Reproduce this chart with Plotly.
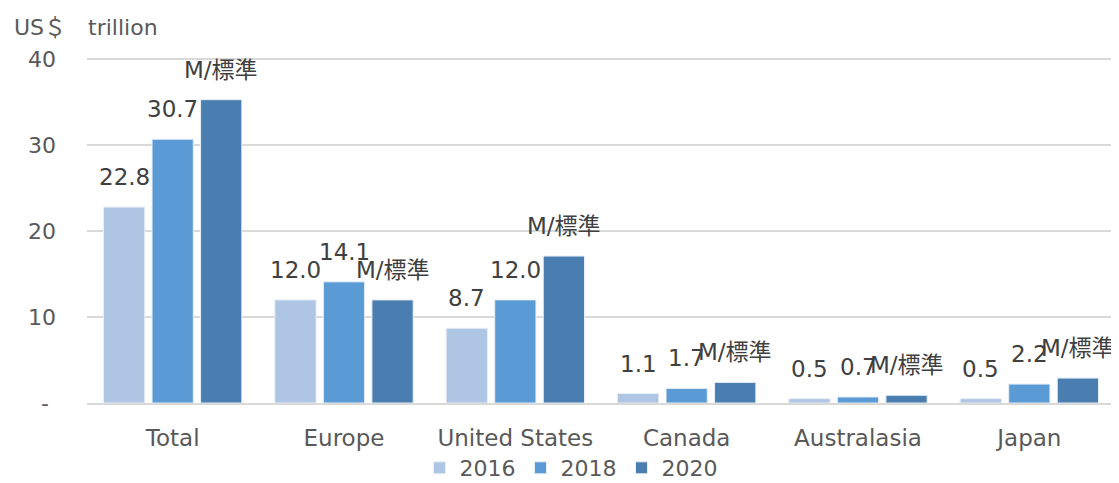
import plotly.graph_objects as go

categories = ["Total", "Europe", "United States", "Canada", "Australasia", "Japan"]
years = ["2016", "2018", "2020"]
v2016 = [22.8, 12.0, 8.7, 1.1, 0.5, 0.5]
v2018 = [30.7, 14.1, 12.0, 1.7, 0.7, 2.2]
v2020 = [35.3, 12.0, 17.1, 2.4, 0.9, 2.9]
labels2016 = ["22.8", "12.0", "8.7", "1.1", "0.5", "0.5"]
labels2018 = ["30.7", "14.1", "12.0", "1.7", "0.7", "2.2"]
labels2020 = ["M/標準"] * 6
colors = ["#aec6e4", "#5b9bd5", "#4a7eb0"]

FONT = "DejaVu Sans, Noto Sans CJK JP, sans-serif"
series = [v2016, v2018, v2020]
labels = [labels2016, labels2018, labels2020]

# page body has an 8px margin, so the figure is drawn 8px smaller
W, H = 1111, 475
ML, MR, MT, MB = 79, 4, 47, 80
PW, PH = W - ML - MR, H - MT - MB
YMAX = 40.5

fig = go.Figure()
for yr, vals, col in zip(years, series, colors):
    fig.add_trace(go.Bar(
        x=list(range(len(categories))), y=vals, name=yr,
        marker=dict(color=col, line=dict(color="#e8eef6", width=1)),
    ))

bargap = 0.15
slot = (1 - bargap) / 3
for j, (vals, labs) in enumerate(zip(series, labels)):
    for i, (v, t) in enumerate(zip(vals, labs)):
        fig.add_annotation(
            x=i + (j - 1) * slot, y=v, xref="x", yref="y", text=t,
            showarrow=False, yshift=30,
            font=dict(family=FONT, size=23, color="#404040"),
        )

fig.add_annotation(
    x=(4 - ML) / PW, y=1 + (MT - 20) / PH, xref="paper", yref="paper",
    text="US＄　trillion", showarrow=False, xanchor="left", yanchor="middle",
    font=dict(family=FONT, size=22, color="#595959"),
)

fig.update_layout(
    width=W, height=H,
    margin=dict(l=ML, r=MR, t=MT, b=MB, autoexpand=False),
    paper_bgcolor="white", plot_bgcolor="white",
    barmode="group", bargap=bargap, bargroupgap=0.15,
    font=dict(family=FONT, size=22, color="#595959"),
    legend=dict(orientation="h", x=0.5 - 30 / PW, xanchor="center",
                y=-(65) / PH, yanchor="middle",
                font=dict(family=FONT, size=22, color="#595959"),
                itemwidth=30, traceorder="normal"),
    showlegend=True,
)
fig.update_xaxes(
    tickvals=list(range(len(categories))), ticktext=categories,
    range=[-0.5, len(categories) - 0.5], automargin=False,
    showline=True, linecolor="#d9d9d9", linewidth=1.5,
    showgrid=False, ticks="", ticklabelstandoff=14,
    tickfont=dict(family=FONT, size=23, color="#595959"),
)
fig.update_yaxes(
    range=[0, YMAX], tickvals=[0, 10, 20, 30, 40], ticktext=["- ", "10", "20", "30", "40"],
    showgrid=True, gridcolor="#d9d9d9", gridwidth=1.5, zeroline=False, automargin=False,
    ticks="", ticklabelstandoff=30,
    tickfont=dict(family=FONT, size=22, color="#595959"),
)

fig.write_html("out.html")
